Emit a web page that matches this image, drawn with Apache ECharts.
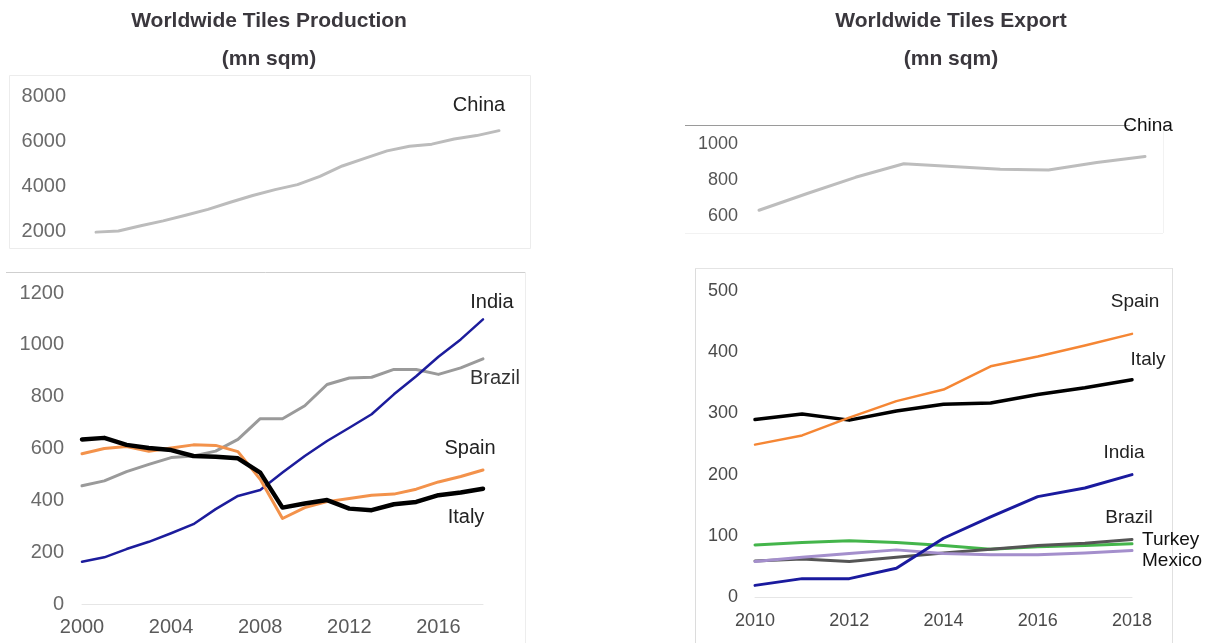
<!DOCTYPE html>
<html>
<head>
<meta charset="utf-8">
<script src="https://cdn.jsdelivr.net/npm/echarts@6/dist/echarts.min.js"></script>
<style>
html,body{margin:0;padding:0;background:#fff;}
#chart{width:1206px;height:643px;}
</style>
</head>
<body>
<div id="chart"></div>
<script>
// ---------- DATA ----------
const prodYears = ['2000','2001','2002','2003','2004','2005','2006','2007','2008','2009','2010','2011','2012','2013','2014','2015','2016','2017','2018'];
const prodChina  = [1950,2000,2230,2450,2700,2960,3280,3580,3840,4060,4430,4890,5230,5560,5770,5860,6090,6240,6460];
const prodIndia  = [163,180,212,240,273,308,366,417,440,507,571,629,680,732,809,879,954,1021,1098];
const prodBrazil = [456,475,511,539,565,571,590,635,715,715,765,847,872,875,905,905,886,911,946];
const prodSpain  = [580,600,608,589,602,614,612,588,481,330,372,395,407,420,424,443,471,492,517];
const prodItaly  = [635,641,614,602,594,571,568,562,507,372,388,401,368,362,385,394,420,430,445];

const expYears = ['2010','2011','2012','2013','2014','2015','2016','2017','2018'];
const expChina  = [632,725,815,890,875,860,856,897,931];
const expSpain  = [249,264,293,320,339,377,393,411,430];
const expItaly  = [290,299,289,304,315,317,331,342,355];
const expIndia  = [19,30,30,47,96,131,164,178,200];
const expTurkey = [85,89,92,89,84,78,82,84,87];
const expBrazil = [59,62,58,65,72,78,84,88,94];
const expMexico = [58,65,71,77,71,69,69,72,76];

const prodTopTicks = [2000, 8000, 2000];   // min, max, interval
const prodBotTicks = [0, 1200, 200];
const expTopTicks  = [600, 1000, 200];
const expBotTicks  = [0, 500, 100];

// ---------- CHART ----------
const FONT = '"Liberation Sans", Arial, Helvetica, sans-serif';
const chart = echarts.init(document.getElementById('chart'), null, {renderer:'canvas'});

function xCat(gridIndex, data, show, labelInterval, fontSize, color, margin, lineShow) {
  return {
    type:'category', gridIndex, data, boundaryGap:false,
    axisLine:{show:lineShow, lineStyle:{color:'#e6e6e6', width:1}},
    axisTick:{show:false}, splitLine:{show:false},
    axisLabel:{show, interval:labelInterval, fontSize, color, fontFamily:FONT, margin}
  };
}
function yVal(gridIndex, ticks, fontSize, color, margin) {
  return {
    type:'value', gridIndex, min:ticks[0], max:ticks[1], interval:ticks[2],
    axisLine:{show:false}, axisTick:{show:false}, splitLine:{show:false},
    axisLabel:{fontSize, color, fontFamily:FONT, margin, formatter:(v)=>String(v)}
  };
}
function line(name, xi, data, color, width) {
  return {
    name, type:'line', xAxisIndex:xi, yAxisIndex:xi, data,
    symbol:'none', smooth:false, clip:false, silent:true,
    lineStyle:{color, width, join:'round', cap:'round'}
  };
}
function txt(text, x, y, size, color, align, weight) {
  return {type:'text', x, y, silent:true, style:{text, fill:color, font:(weight||'normal')+' '+size+'px '+FONT, align:align||'center', verticalAlign:'middle'}};
}
function seg(x1,y1,x2,y2,color,w){
  return {type:'line', silent:true, shape:{x1,y1,x2,y2}, style:{stroke:color, lineWidth:w||1}};
}

const option = {
  backgroundColor:'#ffffff',
  animation:false,
  grid:[
    {left:96,  top:96,  width:403, height:135},
    {left:82,  top:293, width:401, height:311},
    {left:759, top:144, width:386, height:72},
    {left:755, top:291, width:377, height:306}
  ],
  xAxis:[
    xCat(0, prodYears, false, 0, 20, '#666', 10, false),
    xCat(1, prodYears, true, 3, 20, '#5a5a5a', 13, true),
    xCat(2, expYears, false, 0, 18, '#555', 10, false),
    xCat(3, expYears, true, 1, 18, '#4a4a4a', 15, true)
  ],
  yAxis:[
    yVal(0, prodTopTicks, 20, '#6a6a6a', 30),
    yVal(1, prodBotTicks, 20, '#6a6a6a', 18),
    yVal(2, expTopTicks, 18, '#555', 21),
    yVal(3, expBotTicks, 18, '#4a4a4a', 17)
  ],
  series:[
    line('China', 0, prodChina, '#bcbcbc', 3),
    line('Brazil', 1, prodBrazil, '#9a9a9a', 3),
    line('India', 1, prodIndia, '#1c1c9c', 2.5),
    line('Spain', 1, prodSpain, '#f3924b', 3),
    line('Italy', 1, prodItaly, '#000000', 4.5),
    line('China', 2, expChina, '#bdbdbd', 3),
    line('Turkey', 3, expTurkey, '#44b54b', 3),
    line('Brazil', 3, expBrazil, '#555555', 3),
    line('Mexico', 3, expMexico, '#a48fcc', 3),
    line('India', 3, expIndia, '#1a1a9e', 3),
    line('Italy', 3, expItaly, '#000000', 3.5),
    line('Spain', 3, expSpain, '#f58634', 2.5)
  ],
  graphic:[
    // titles
    txt('Worldwide Tiles Production', 269, 21, 21, '#3a373d', 'center', 'bold'),
    txt('(mn sqm)', 269, 59, 21, '#3a373d', 'center', 'bold'),
    txt('Worldwide Tiles Export', 951, 21, 21, '#3a373d', 'center', 'bold'),
    txt('(mn sqm)', 951, 59, 21, '#3a373d', 'center', 'bold'),
    // panel frames
    {type:'rect', silent:true, shape:{x:9.5, y:75.5, width:521, height:173}, style:{fill:'none', stroke:'#ececec', lineWidth:1}},
    seg(6, 272.5, 525, 272.5, '#cfcfcf', 1),
    seg(525.5, 272, 525.5, 643, '#ededed', 1),
    seg(685, 125.5, 1130, 125.5, '#9a9a9a', 1),
    seg(1163.5, 126, 1163.5, 233, '#f2f2f2', 1),
    seg(685, 233.5, 1163, 233.5, '#f2f2f2', 1),
    seg(695.5, 268, 695.5, 643, '#dcdcdc', 1),
    seg(695, 268.5, 1172, 268.5, '#e4e4e4', 1),
    seg(1172.5, 268, 1172.5, 643, '#e0e0e0', 1),
    // series labels (left)
    txt('China', 479, 105, 20, '#222', 'center'),
    txt('India', 492, 302, 20, '#222', 'center'),
    txt('Brazil', 495, 378, 20, '#333', 'center'),
    txt('Spain', 470, 448, 20, '#222', 'center'),
    txt('Italy', 466, 517, 20, '#222', 'center'),
    // series labels (right)
    txt('China', 1148, 126, 19, '#111', 'center'),
    txt('Spain', 1135, 302, 19, '#222', 'center'),
    txt('Italy', 1148, 360, 19, '#222', 'center'),
    txt('India', 1124, 453, 19, '#222', 'center'),
    txt('Brazil', 1129, 518, 19, '#222', 'center'),
    txt('Turkey', 1142, 540, 19, '#111', 'left'),
    txt('Mexico', 1142, 561, 19, '#111', 'left')
  ]
};
chart.setOption(option);
</script>
</body>
</html>
